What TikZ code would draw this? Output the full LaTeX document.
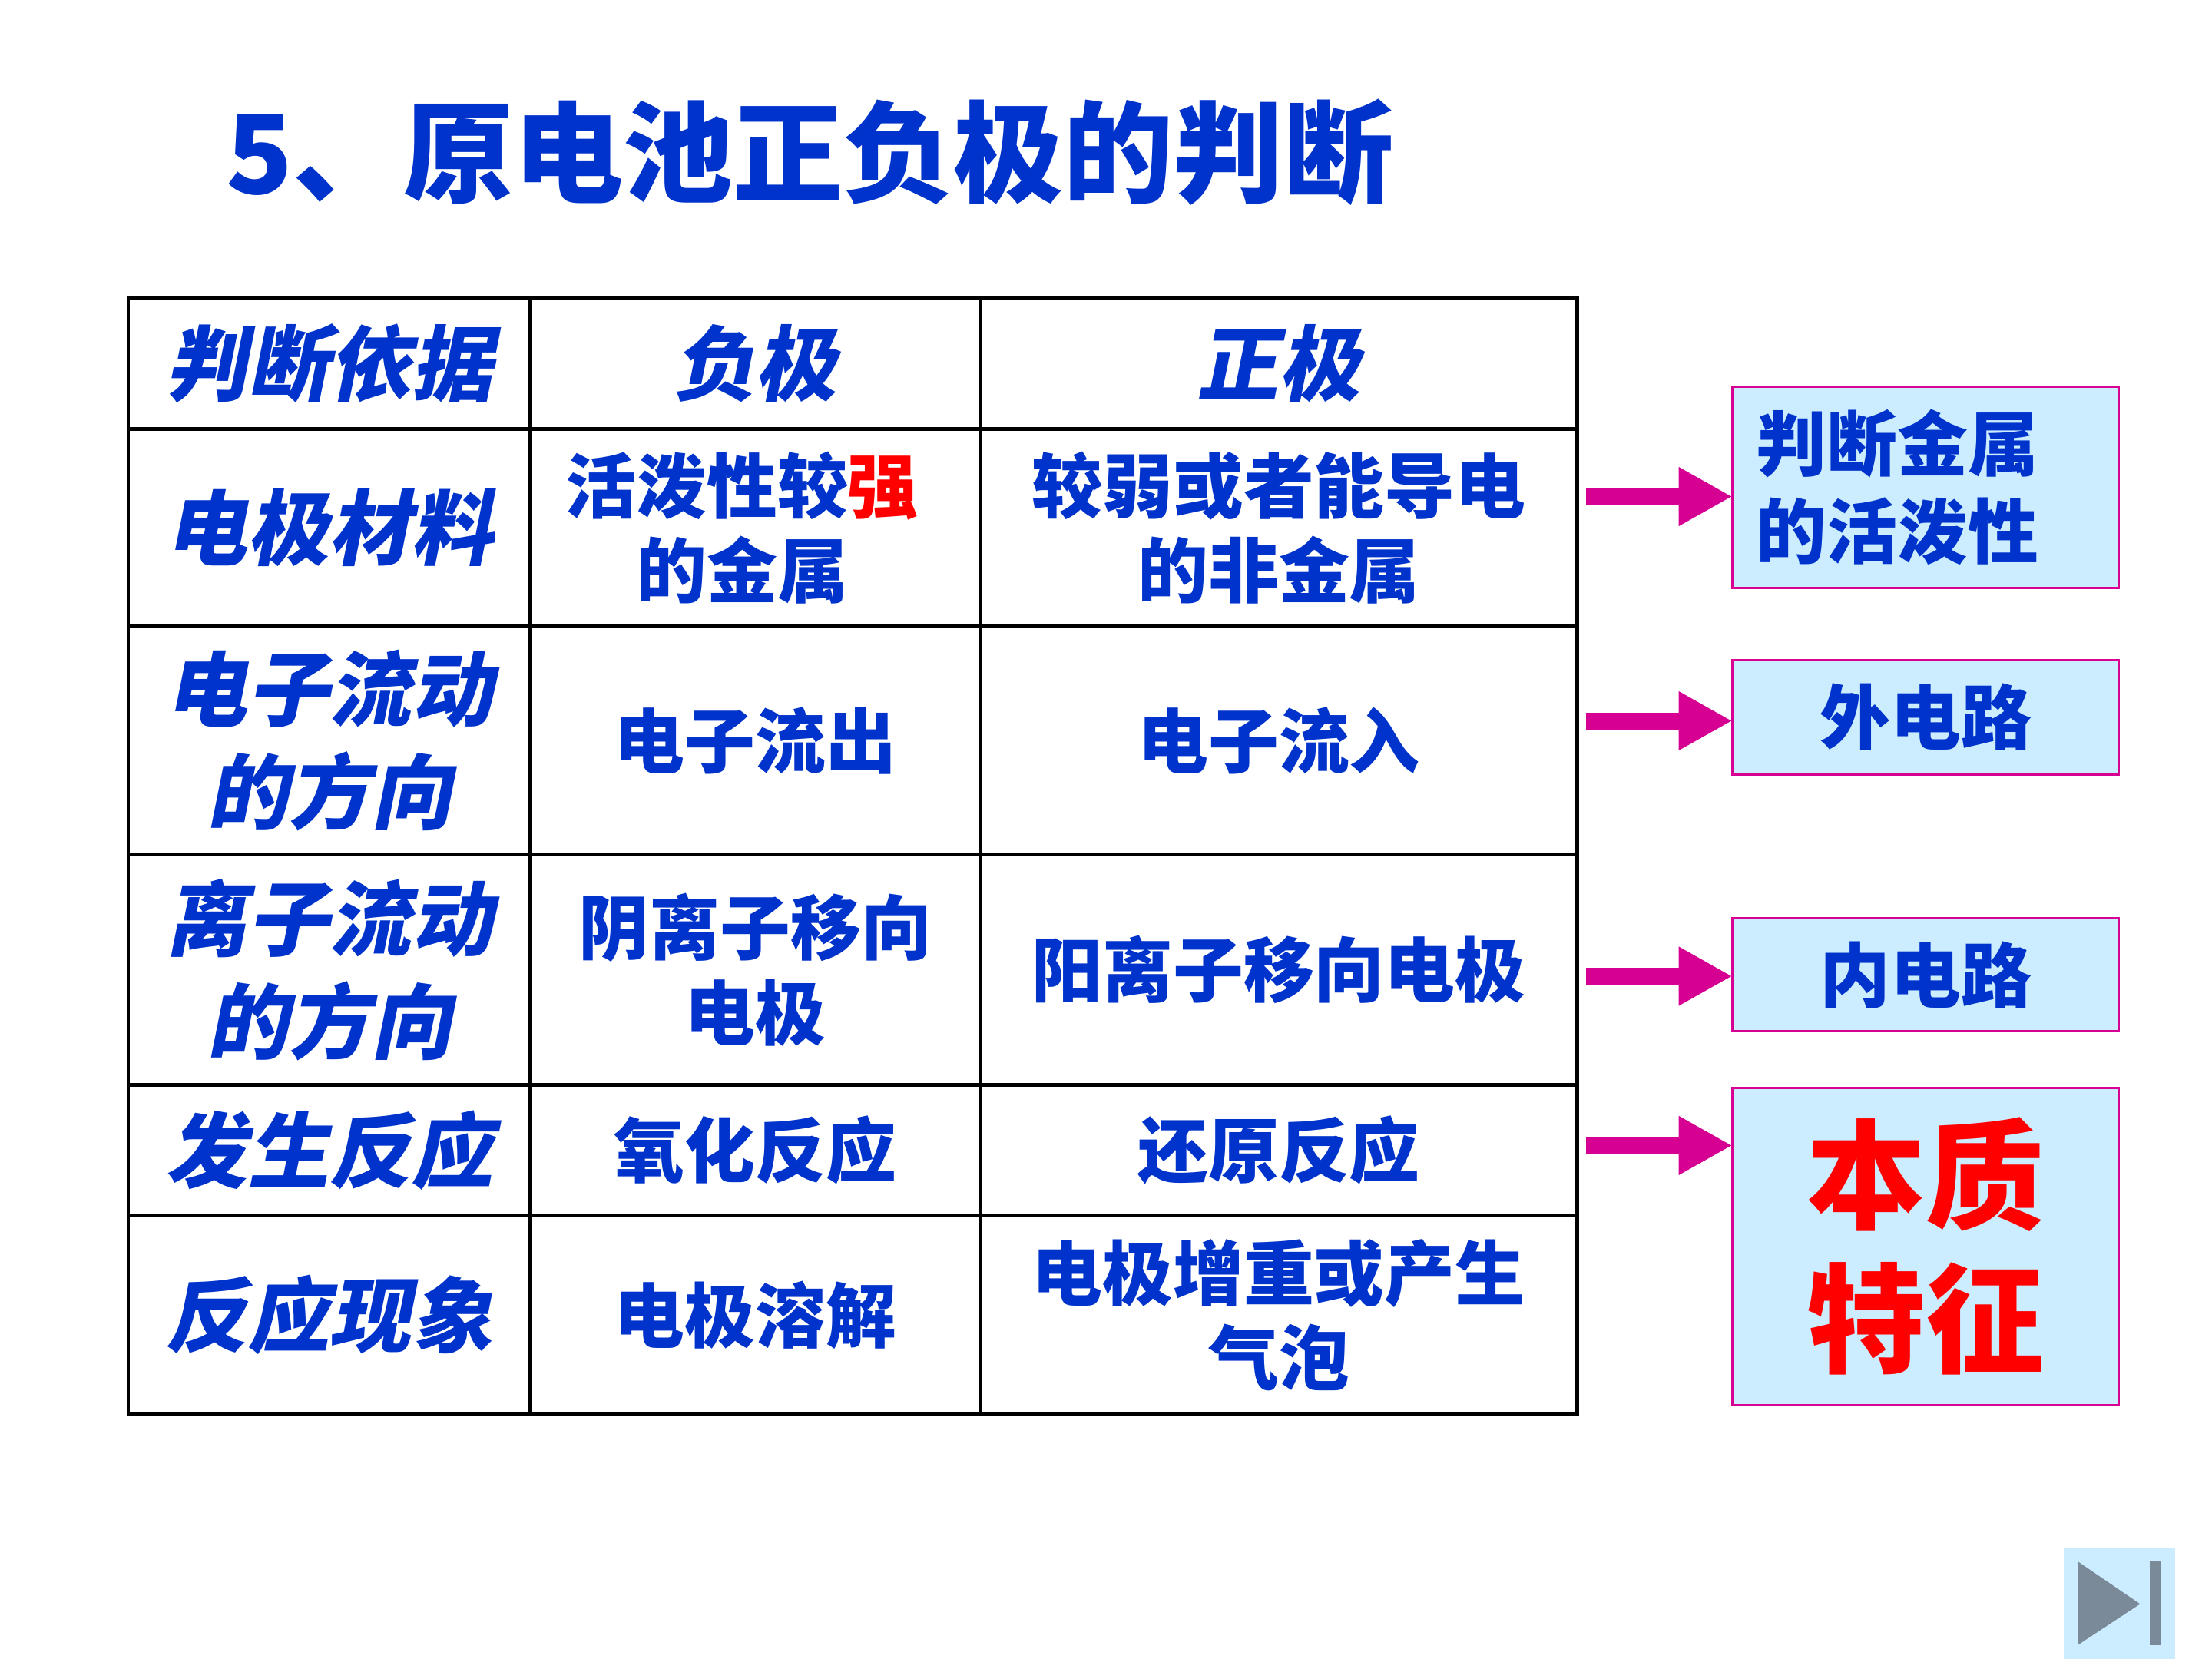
\documentclass[tikz,border=0pt]{standalone}
\usepackage{fontspec}
\newfontfamily\cjk{Noto Sans CJK SC}
\newfontfamily\cjkit{Noto Sans CJK SC}[FakeSlant=0.2]
\usetikzlibrary{arrows.meta}
\definecolor{textBlue}{RGB}{0,51,204}
\definecolor{hotRed}{RGB}{255,0,0}
\definecolor{arrowMagenta}{RGB}{214,0,147}
\definecolor{tagFill}{RGB}{204,236,255}
\definecolor{buttonGray}{RGB}{122,138,153}

\begin{document}
\begin{tikzpicture}[x=1pt,y=1pt,
  cell/.style={text=textBlue,align=center,inner sep=0pt,outer sep=0pt,font=\cjk\bfseries\fontsize{25}{30}\selectfont},
  head/.style={cell,font=\cjkit\bfseries\fontsize{29}{36.5}\selectfont},
  tag/.style={draw=arrowMagenta,fill=tagFill,line width=0.8pt,minimum width=137pt,inner sep=0pt,outer sep=0pt,text=textBlue,align=center,font=\cjk\bfseries\fontsize{25}{31}\selectfont},
  pointer/.style={draw=arrowMagenta,line width=6pt,-{Triangle[length=19pt,width=19.5pt]}}]
\definecolor{fillColor}{RGB}{255,255,255}
\path[use as bounding box,fill=fillColor] (0,0) rectangle (784,588);

% title
\node[text=textBlue,anchor=west,inner sep=0pt,font=\cjk\bfseries\fontsize{39}{39}\selectfont] (title) at (80,534) {5、原电池正负极的判断};

% table grid
\begin{scope}
\definecolor{drawColor}{RGB}{0,0,0}
\path[draw=drawColor,line width=1.2pt] ( 45.5, 87.0) rectangle (559.0,482.5);
\path[draw=drawColor,line width=1.2pt] ( 45.5,436.0) -- (559.0,436.0);
\path[draw=drawColor,line width=1.2pt] ( 45.5,366.0) -- (559.0,366.0);
\path[draw=drawColor,line width=1.2pt] ( 45.5,285.0) -- (559.0,285.0);
\path[draw=drawColor,line width=1.2pt] ( 45.5,203.5) -- (559.0,203.5);
\path[draw=drawColor,line width=1.2pt] ( 45.5,157.0) -- (559.0,157.0);
\path[draw=drawColor,line width=1.2pt] (188.0, 87.0) -- (188.0,482.5);
\path[draw=drawColor,line width=1.2pt] (347.5, 87.0) -- (347.5,482.5);
\end{scope}

% header row
\node[head] (basis) at (116.75,459.25) {判断依据};
\node[head] (anode) at (267.75,459.25) {负极};
\node[head] (cathode) at (453.25,459.25) {正极};

% rows
\node[head] (material) at (116.75,401.0) {电极材料};
\node[cell] (materialA) at (263.0,401.0) {活泼性较\textcolor{hotRed}{强}\\的金属};
\node[cell] (materialC) at (453.25,401.0) {较弱或者能导电\\的非金属};

\node[head] (electron) at (116.75,325.5) {电子流动\\的方向};
\node[cell] (electronA) at (267.75,325.5) {电子流出};
\node[cell] (electronC) at (453.25,325.5) {电子流入};

\node[head] (ion) at (116.75,244.25) {离子流动\\的方向};
\node[cell] (ionA) at (267.75,244.25) {阴离子移向\\电极};
\node[cell] (ionC) at (453.25,244.25) {阳离子移向电极};

\node[head] (reaction) at (116.75,180.25) {发生反应};
\node[cell] (reactionA) at (267.75,180.25) {氧化反应};
\node[cell] (reactionC) at (453.25,180.25) {还原反应};

\node[head] (sign) at (116.75,122.0) {反应现象};
\node[cell] (signA) at (267.75,122.0) {电极溶解};
\node[cell] (signC) at (453.25,122.0) {电极增重或产生\\气泡};

% side tags
\node[tag,minimum height=71.5pt,text width=120pt,inner xsep=8.5pt,align=left] (activity) at (682.5,415.25) {判断金属\\的活泼性};
\node[tag,minimum height=40.5pt] (outer) at (682.5,333.75) {外电路};
\node[tag,minimum height=40pt] (inner) at (682.5,242.5) {内电路};
\node[tag,minimum height=112.5pt,text=hotRed,font=\cjk\bfseries\fontsize{42}{51}\selectfont] (essence) at (682.5,146.25) {本质\\特征};

% arrows
\coordinate (p1) at (562,412.0);
\coordinate (p2) at (562,332.5);
\coordinate (p3) at (562,242.0);
\coordinate (p4) at (562,182.0);
\draw[pointer] (p1) -- (p1 -| activity.west);
\draw[pointer] (p2) -- (p2 -| outer.west);
\draw[pointer] (p3) -- (p3 -| inner.west);
\draw[pointer] (p4) -- (p4 -| essence.west);

% next button
\path[fill=tagFill] (731.5,0) rectangle (771,39.5);
\path[fill=buttonGray] (736.5,34.5) -- (758.5,19.5) -- (736.5,5) -- cycle;
\path[fill=buttonGray] (762,5) rectangle (766,34.5);
\end{tikzpicture}
\end{document}
